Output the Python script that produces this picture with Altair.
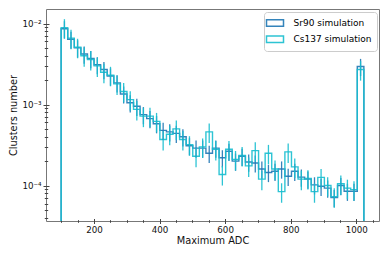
import altair as alt
import pandas as pd

# ---------------- data ----------------
series_names = ["Sr90 simulation", "Cs137 simulation"]
series_colors = ["#1f77b4", "#17becf"]

# 46 bins between 100 and 1023 ADC
bin_lo = 100.0
bin_hi = 1023.0
n_bins = 46

sr90 = [
    8.6e-3, 6.4e-3, 5.0e-3, 4.2e-3, 3.7e-3, 3.1e-3, 2.7e-3, 2.25e-3, 1.85e-3, 1.35e-3,
    1.05e-3, 9.5e-4, 7.5e-4, 6.7e-4, 5.8e-4, 4.8e-4, 4.6e-4, 4.4e-4, 4.0e-4, 3.1e-4,
    2.9e-4, 2.9e-4, 2.5e-4, 2.9e-4, 2.2e-4, 2.65e-4, 2.0e-4, 2.3e-4, 1.95e-4, 1.9e-4,
    1.6e-4, 1.45e-4, 1.5e-4, 1.6e-4, 1.3e-4, 1.5e-4, 1.27e-4, 1.2e-4, 1.02e-4, 9.8e-5,
    9.3e-5, 7.1e-5, 1.0e-4, 8.5e-5, 8.5e-5, 2.95e-3,
]
cs137 = [
    8.9e-3, 6.6e-3, 5.1e-3, 4.0e-3, 3.6e-3, 3.0e-3, 2.5e-3, 2.3e-3, 1.8e-3, 1.45e-3,
    1.15e-3, 8.7e-4, 7.2e-4, 7.2e-4, 6.2e-4, 3.7e-4, 4.3e-4, 5.0e-4, 3.7e-4, 3.2e-4,
    2.3e-4, 3.0e-4, 4.6e-4, 2.8e-4, 1.37e-4, 2.8e-4, 2.1e-4, 2.35e-4, 1.75e-4, 2.7e-4,
    1.2e-4, 2.5e-4, 1.6e-4, 8.4e-5, 2.6e-4, 1.7e-4, 1.2e-4, 1.22e-4, 8.4e-5, 1.26e-4,
    1.0e-4, 7.3e-5, 1.05e-4, 9.3e-5, 8.9e-5, 2.7e-3,
]
# relative size of the error bars
rel_err = {"Sr90 simulation": 0.24, "Cs137 simulation": 0.27}

x_major = [200, 400, 600, 800, 1000]
x_minor = [100, 150, 250, 300, 350, 450, 500, 550, 650, 700, 750, 850, 900, 950, 1050]
y_major = [1e-4, 1e-3, 1e-2]
y_minor = [4e-5, 5e-5, 6e-5, 7e-5, 8e-5, 9e-5,
           2e-4, 3e-4, 4e-4, 5e-4, 6e-4, 7e-4, 8e-4, 9e-4,
           2e-3, 3e-3, 4e-3, 5e-3, 6e-3, 7e-3, 8e-3, 9e-3]

# ---------------- tables ----------------
edges = [bin_lo + (bin_hi - bin_lo) * i / n_bins for i in range(n_bins + 1)]
FLOOR = 1e-6  # histogram outline drops to zero -> below the log axis

step_rows, err_rows = [], []
for name, vals in zip(series_names, [sr90, cs137]):
    pts = [(edges[0], FLOOR)] + [(edges[k], vals[k]) for k in range(n_bins)] + [(edges[-1], FLOOR)]
    for i, (x, y) in enumerate(pts):
        step_rows.append({"series": name, "x": x, "y": y, "i": i})
    r = rel_err[name]
    for k in range(n_bins):
        err_rows.append({"series": name, "c": (edges[k] + edges[k + 1]) / 2,
                         "lo": vals[k] * (1 - r), "hi": vals[k] * (1 + r)})
steps = pd.DataFrame(step_rows)
errs = pd.DataFrame(err_rows)

# ---------------- chart ----------------
FONT = "DejaVu Sans"
xscale = alt.Scale(domain=[53.85, 1069.15], nice=False, zero=False)
yscale = alt.Scale(type="log", domain=[3.65e-5, 0.0151], nice=False)

color_scale = alt.Scale(domain=series_names, range=series_colors)

legend = alt.Legend(
    title=None, orient="none", legendX=218, legendY=3,
    symbolType="M-1.7,-0.65H1.7V0.65H-1.7Z", symbolSize=100,
    symbolStrokeWidth=1.5, symbolFillColor="transparent",
    labelFont=FONT, labelFontSize=9, labelColor="#000", labelOffset=12.5,
    rowPadding=2.3, padding=5, strokeColor="#cccccc",
    fillColor="rgba(255,255,255,0.8)", cornerRadius=3,
)

ax_common = dict(domain=False, grid=False, tickColor="#444", labelColor="#111",
                 labelFont=FONT, titleFont=FONT, titleColor="#111",
                 titleFontWeight="normal")

x_major_axis = alt.Axis(values=x_major, orient="bottom", tickSize=5, offset=-2.5,
                        labelPadding=2, labelFontSize=8.7, format="d",
                        labelFlush=False, labelOverlap=False,
                        title="Maximum ADC", titleFontSize=9.8, titlePadding=1,
                        **ax_common)
y_major_axis = alt.Axis(values=y_major, orient="left", tickSize=6, offset=-3,
                        labelPadding=2, labelFontSize=8.7,
                        labelExpr="datum.value < 0.0005 ? '10\u207b\u2074' : (datum.value < 0.005 ? '10\u207b\u00b3' : '10\u207b\u00b2')",
                        labelFlush=False, labelOverlap=False,
                        title="Clusters number", titleFontSize=9.8, titlePadding=3,
                        **ax_common)
x_minor_axis = alt.Axis(values=x_minor, orient="bottom", tickSize=2.6, offset=-1.3,
                        labels=False, title=None, **ax_common)
y_minor_axis = alt.Axis(values=y_minor, orient="left", tickSize=3.4, offset=-1.7,
                        labels=False, title=None, **ax_common)

lines = alt.Chart(steps).mark_line(interpolate="step-after", strokeWidth=1.4,
                                   clip=True, opacity=0.9).encode(
    x=alt.X("x:Q", scale=xscale, axis=x_major_axis),
    y=alt.Y("y:Q", scale=yscale, axis=y_major_axis),
    color=alt.Color("series:N", scale=color_scale, legend=legend, sort=series_names),
    order="i:Q",
)

bars = alt.Chart(errs).mark_rule(strokeWidth=1.3, clip=True, opacity=0.9).encode(
    x=alt.X("c:Q", scale=xscale, axis=x_minor_axis),
    y=alt.Y("lo:Q", scale=yscale, axis=y_minor_axis),
    y2="hi:Q",
    color=alt.Color("series:N", scale=color_scale, legend=None, sort=series_names),
)

chart = alt.layer(lines, bars).resolve_axis(x="independent", y="independent").properties(
    width=333, height=212,
    autosize=alt.AutoSizeParams(type="none"),
    padding={"left": 38, "top": 1, "right": 3, "bottom": 26},
).configure(font=FONT).configure_view(stroke="#777", strokeWidth=1)

chart.save("out.html", embed_options={"renderer": "svg", "actions": False})
